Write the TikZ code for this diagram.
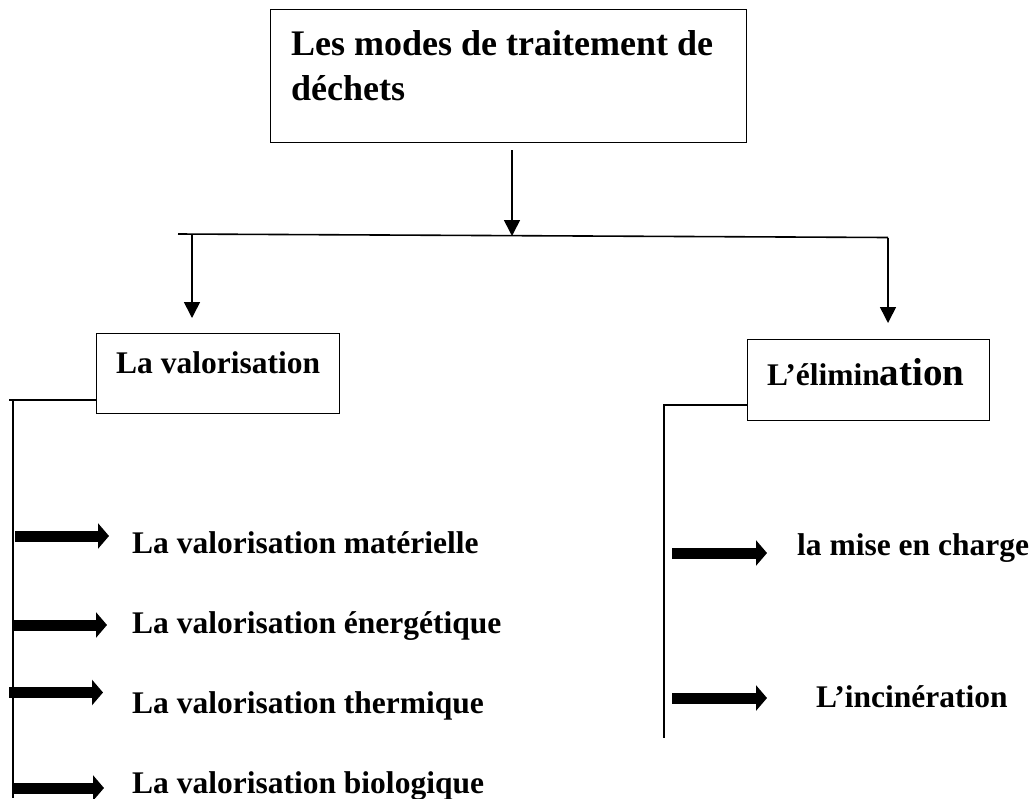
\documentclass[tikz,border=0pt]{standalone}
\usepackage{fontspec}
\setmainfont{Liberation Serif}
\usetikzlibrary{arrows.meta}

\tikzset{
  box/.style={draw=black, line width=1.3pt, rectangle, inner sep=0pt, anchor=north west},
  txt/.style={anchor=base west, inner sep=0pt, font=\bfseries\fontsize{31.5}{36}\selectfont},
  bigtxt/.style={anchor=base west, inner sep=0pt, font=\bfseries\fontsize{36}{45}\selectfont},
  link/.style={draw=black, line width=1.6pt},
  drop/.style={link, -{Triangle[length=16pt,width=16pt]}},
  fat/.style={draw=black, line width=11pt, line cap=butt, -{Triangle[length=11pt,width=25pt]}}
}

\begin{document}
\begin{tikzpicture}[x=1pt,y=-1pt]
\useasboundingbox (0,0) rectangle (1032,798);

% boxes
\node[box, minimum width=476pt, minimum height=133pt] (title) at (270,9) {};
\node[box, minimum width=243pt, minimum height=80pt] (valo) at (96,333) {};
\node[box, minimum width=242pt, minimum height=81pt] (elim) at (747,339) {};

% box captions
\node[bigtxt] (title1) at (291,55) {Les modes de traitement de};
\node[bigtxt] (title2) at (291,100) {déchets};
\node[txt] (valotxt) at (116,373) {La valorisation};
\node[txt] (elimtxt) at (767,385) {L’élimin{\bfseries\fontsize{39}{42}\selectfont ation}};

% list items
\node[txt] (v1) at (132,553) {La valorisation matérielle};
\node[txt] (v2) at (132,633) {La valorisation énergétique};
\node[txt] (v3) at (132,713) {La valorisation thermique};
\node[txt] (v4) at (132,793) {La valorisation biologique};
\node[txt] (e1) at (797,555) {la mise en charge};
\node[txt] (e2) at (816,707) {L’incinération};

% tree connectors
\coordinate (t0) at (512,150);
\coordinate (t1) at (512,236);
\coordinate (barL) at (178,234);
\coordinate (barR) at (888,237.5);
\coordinate (dL0) at (192,234);
\coordinate (dL1) at (192,318);
\coordinate (dR1) at (888,323);
\draw[drop] (t0) -- (t1);
\draw[link] (barL) -- (barR);
\draw[drop] (dL0) -- (dL1);
\draw[drop] (barR) -- (dR1);

% valorisation branch
\coordinate (vtick) at (9,400);
\coordinate (vtop) at (13,400);
\coordinate (vbot) at (13,798);
\draw[link] (valo.west |- vtop) -- (vtick);
\draw[link] (vtop) -- (vbot);

% elimination branch
\coordinate (etick) at (663,405);
\coordinate (etop) at (664,405);
\coordinate (ebot) at (664,738);
\draw[link] (elim.west |- etick) -- (etick);
\draw[link] (etop) -- (ebot);

% thick arrows, left column
\coordinate (a1) at (15,536);  \coordinate (b1) at (109,536);
\coordinate (a2) at (13,625);  \coordinate (b2) at (107,625);
\coordinate (a3) at (9,692.5); \coordinate (b3) at (103,692.5);
\coordinate (a4) at (12,788);  \coordinate (b4) at (104,788);
\draw[fat] (a1) -- (b1);
\draw[fat] (a2) -- (b2);
\draw[fat] (a3) -- (b3);
\draw[fat] (a4) -- (b4);

% thick arrows, right column
\coordinate (c1) at (672,553); \coordinate (d1) at (767,553);
\coordinate (c2) at (672,698); \coordinate (d2) at (767,698);
\draw[fat] (c1) -- (d1);
\draw[fat] (c2) -- (d2);
\end{tikzpicture}
\end{document}
